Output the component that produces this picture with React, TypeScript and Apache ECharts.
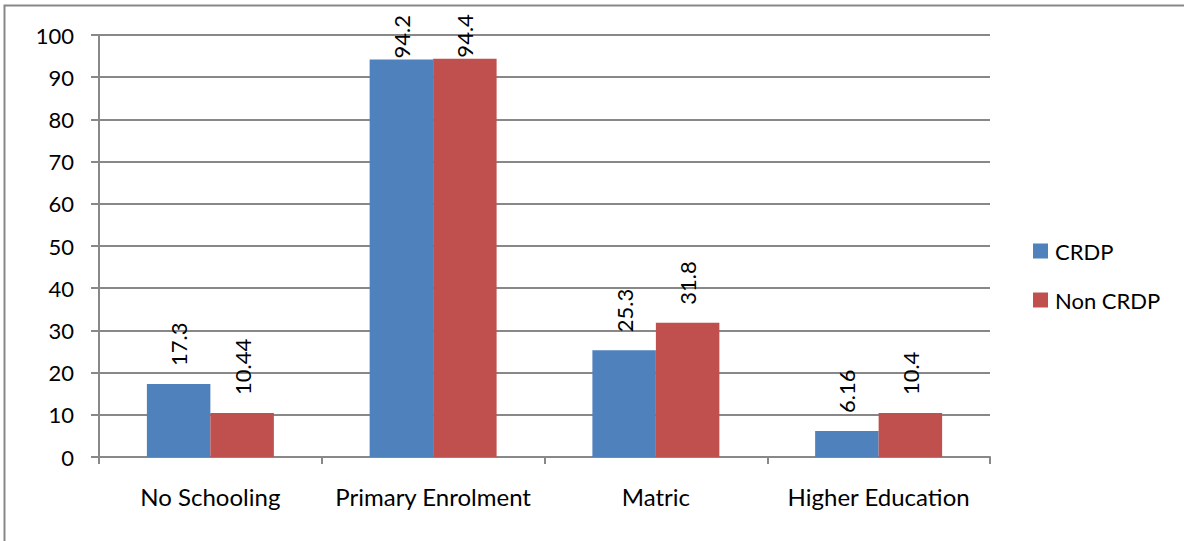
import React, { useEffect, useRef } from "react";
import * as echarts from "echarts";

const categories = ["No Schooling", "Primary Enrolment", "Matric", "Higher Education"];
const crdp = [17.3, 94.2, 25.3, 6.16];
const nonCrdp = [10.44, 94.4, 31.8, 10.4];
const crdpLabels = ["17.3", "94.2", "25.3", "6.16"];
const nonCrdpLabels = ["10.44", "94.4", "31.8", "10.4"];

const FONT = "Lato";
const FS = 22;

function makeData(vals: number[], labels: string[]) {
  return vals.map((v, i) => ({
    value: v,
    label: { formatter: labels[i], distance: v > 85 ? 1 : 18 },
  }));
}

export default function App() {
  const ref = useRef<HTMLDivElement>(null);
  useEffect(() => {
    if (!ref.current) return;
    const chart = echarts.init(ref.current, undefined, { renderer: "svg" });
    const labelCfg = {
      show: true,
      position: "top",
      rotate: 90,
      align: "left",
      verticalAlign: "middle",
      fontFamily: FONT,
      fontSize: FS,
      color: "#000",
    };
    chart.setOption({
      animation: false,
      backgroundColor: "#fff",
      textStyle: { fontFamily: FONT },
      graphic: [
        {
          type: "rect",
          shape: { x: 4.5, y: 5.5, width: 1200, height: 600 },
          style: { fill: "none", stroke: "#888", lineWidth: 2 },
          silent: true,
        },
      ],
      grid: { left: 99, right: 194, top: 35, bottom: 84, containLabel: false },
      legend: {
        orient: "vertical",
        left: 1033,
        top: 240,
        padding: 0,
        itemWidth: 15,
        itemHeight: 15,
        itemGap: 27,
        icon: "rect",
        textStyle: { fontFamily: FONT, fontSize: FS, color: "#000", padding: [0, 0, 0, 2] },
        data: ["CRDP", "Non CRDP"],
      },
      xAxis: {
        type: "category",
        data: categories,
        axisLine: { lineStyle: { color: "#888", width: 2 } },
        axisTick: { show: true, length: 7, interval: 0, lineStyle: { color: "#888", width: 2 } },
        axisLabel: { interval: 0, fontFamily: FONT, fontSize: 24, color: "#000", margin: 27 },
      },
      yAxis: {
        type: "value",
        min: 0,
        max: 100,
        interval: 10,
        axisLine: { show: true, lineStyle: { color: "#888", width: 2 } },
        axisTick: { show: true, length: 8, lineStyle: { color: "#888", width: 2 } },
        axisLabel: { fontFamily: FONT, fontSize: FS, color: "#000", margin: 25 },
        splitLine: { show: true, lineStyle: { color: "#888", width: 2 } },
      },
      series: [
        {
          name: "CRDP",
          type: "bar",
          data: makeData(crdp, crdpLabels),
          itemStyle: { color: "#4F81BD" },
          barGap: "0%",
          barCategoryGap: "43%",
          label: labelCfg,
        },
        {
          name: "Non CRDP",
          type: "bar",
          data: makeData(nonCrdp, nonCrdpLabels),
          itemStyle: { color: "#C0504D" },
          label: labelCfg,
        },
      ],
    });
    return () => chart.dispose();
  }, []);
  return (
    <div
      ref={ref}
      style={{ position: "fixed", left: 0, top: 0, width: 1184, height: 541, background: "#fff" }}
    />
  );
}
